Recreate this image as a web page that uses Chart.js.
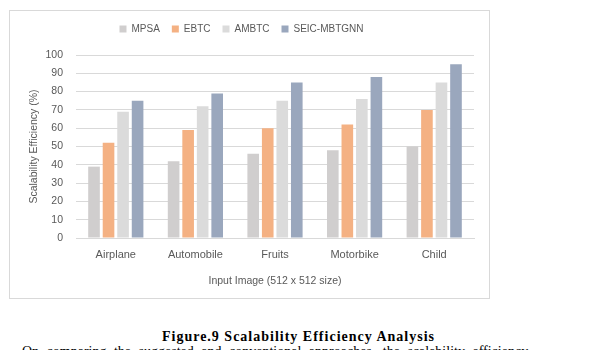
<!DOCTYPE html>
<html>
<head>
<meta charset="utf-8">
<script src="https://cdn.jsdelivr.net/npm/chart.js@4.4.1/dist/chart.umd.min.js"></script>
<style>
  html, body { margin: 0; padding: 0; background: #fff; width: 597px; height: 350px; overflow: hidden; position: relative; }
  .frame { position: absolute; left: 9px; top: 10px; width: 479px; height: 287px; border: 1px solid #d9d9d9; }
  .plot { position: absolute; left: 9px; top: 10px; width: 480px; height: 288px; }
  .caption { position: absolute; left: 0; width: 597px; top: 329px; text-align: center;
    font-family: "Liberation Serif", serif; font-weight: bold; font-size: 14px; letter-spacing: 1px; color: #000; }
  .body-text { position: absolute; left: 22px; top: 344px; white-space: nowrap; word-spacing: 4px;
    font-family: "Liberation Serif", serif; font-size: 14px; color: #000; }
</style>
</head>
<body>
<div class="frame"></div>
<div class="plot"><canvas id="scaleChart"></canvas></div>
<div class="caption">Figure.9 Scalability Efficiency Analysis</div>
<div class="body-text">On comparing the suggested and conventional approaches, the scalability efficiency</div>

<script>
// categories + series
const categories = ['Airplane', 'Automobile', 'Fruits', 'Motorbike', 'Child'];
const mpsa = [39, 42, 46, 48, 50];
const ebtc = [52, 59, 60, 62, 70];
const ambtc = [69, 72, 75, 76, 85];
const seicMbtgnn = [75, 79, 85, 88, 95];
const yTicks = [0, 10, 20, 30, 40, 50, 60, 70, 80, 90, 100];

const textGray = '#595959';
const gridGray = '#d9d9d9';
const family = '"Liberation Sans", Arial, sans-serif';

function bar(label, data, color) {
  return { label, data, backgroundColor: color, borderWidth: 0, barPercentage: 0.8, categoryPercentage: 0.73 };
}

// extra room between the legend row and the plot (Excel style)
const legendGap = {
  id: 'legendGap',
  beforeLayout(chart) {
    const lg = chart.legend;
    if (!lg || lg._gapPatched) return;
    const fit = lg.fit;
    lg.fit = function () { fit.call(this); this.height += 11; };
    lg._gapPatched = true;
  }
};

new Chart(document.getElementById('scaleChart'), {
  type: 'bar',
  data: {
    labels: categories,
    datasets: [
      bar('MPSA', mpsa, '#d0cece'),
      bar('EBTC', ebtc, '#f4b183'),
      bar('AMBTC', ambtc, '#dbdbdb'),
      bar('SEIC-MBTGNN', seicMbtgnn, '#9aa7bd'),
    ]
  },
  plugins: [legendGap],
  options: {
    responsive: true, maintainAspectRatio: false, animation: false,
    layout: { padding: { top: 2, right: 15, bottom: 0, left: 0 } },
    plugins: {
      legend: {
        position: 'top',
        labels: { color: textGray, font: { family, size: 10 }, boxWidth: 7, boxHeight: 7, padding: 12 }
      },
      tooltip: { enabled: false }
    },
    scales: {
      x: {
        grid: { display: false, drawTicks: false },
        border: { color: gridGray },
        ticks: { color: textGray, font: { family, size: 11 }, padding: 10 },
        title: { display: true, text: 'Input Image (512 x 512 size)', color: textGray,
                 font: { family, size: 10.5 }, padding: { top: 4, bottom: 11 } },
        afterFit: s => { s.height = 60; }
      },
      y: {
        min: 0, max: 100,
        afterBuildTicks: s => { s.ticks = yTicks.map(v => ({ value: v })); },
        grid: { color: gridGray, drawTicks: false },
        border: { display: false },
        ticks: { color: textGray, font: { family, size: 10.5 }, padding: 13 },
        title: { display: true, text: 'Scalability Efficiency (%)', color: textGray,
                 font: { family, size: 10.5 }, padding: { top: 19, bottom: 0 } },
        afterFit: s => { s.width = 67; }
      }
    }
  }
});
</script>
</body>
</html>
